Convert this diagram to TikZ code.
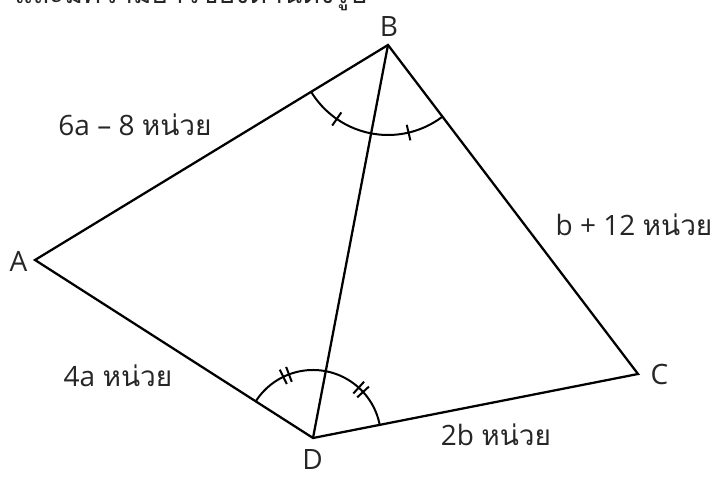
\documentclass[tikz,border=0pt]{standalone}
\usepackage{fontspec}
\setmainfont{Open Sans}
\newfontfamily\thai[Script=Thai]{Loma}
\begin{document}
\begin{tikzpicture}[x=0.75pt,y=0.75pt,
  edge/.style={line width=1.7pt, line join=miter},
  anglemark/.style={line width=1.5pt},
  lbl/.style={font=\fontsize{21pt}{24pt}\selectfont, text=black!85, inner sep=0pt},
  vlbl/.style={font=\fontsize{21pt}{24pt}\selectfont, text=black!85, inner sep=0pt}]
\useasboundingbox (0,0) rectangle (723,484);
\clip (0,0) rectangle (723,484);
% vertices (y measured upward: y = 484 - screen y)
\coordinate (A) at (35,224);
\coordinate (B) at (388,439);
\coordinate (C) at (638,110);
\coordinate (D) at (313,46);
% partially visible heading
\node[lbl, anchor=base west] (head) at (14,480) {\thai และมีความยาวของด้านดังรูป};
% sides
\draw[edge] (A) -- (B) -- (C) -- (D) -- cycle;
\draw[edge] (B) -- (D);
% angle arcs at B
\draw[anglemark] ([shift={(211.35:90)}]B) arc[start angle=211.35, end angle=307.2, radius=90];
\foreach \a in {235.3,283.2}{
  \draw[anglemark] ([shift={(\a:82)}]B) -- ([shift={(\a:98)}]B);
}
% angle arcs at D
\draw[anglemark] ([shift={(11.14:68)}]D) arc[start angle=11.14, end angle=147.4, radius=68];
\foreach \a in {113.3,45.2}{
  \draw[anglemark] ([shift={(\a-2.6:60)}]D) -- ([shift={(\a-2.6:76)}]D);
  \draw[anglemark] ([shift={(\a+2.6:60)}]D) -- ([shift={(\a+2.6:76)}]D);
}
% vertex labels
\node[vlbl] (lA) at (18.5,223) {A};
\node[vlbl] (lB) at (389,457) {B};
\node[vlbl] (lC) at (659.5,109.5) {C};
\node[vlbl] (lD) at (312.5,24) {D};
% side labels
\node[lbl] (sAB) at (135,359) {6a – 8 {\thai หน่วย}};
\node[lbl] (sBC) at (634,259.5) {b + 12 {\thai หน่วย}};
\node[lbl] (sAD) at (118,108) {4a {\thai หน่วย}};
\node[lbl] (sDC) at (496,49) {2b {\thai หน่วย}};
\end{tikzpicture}
\end{document}
